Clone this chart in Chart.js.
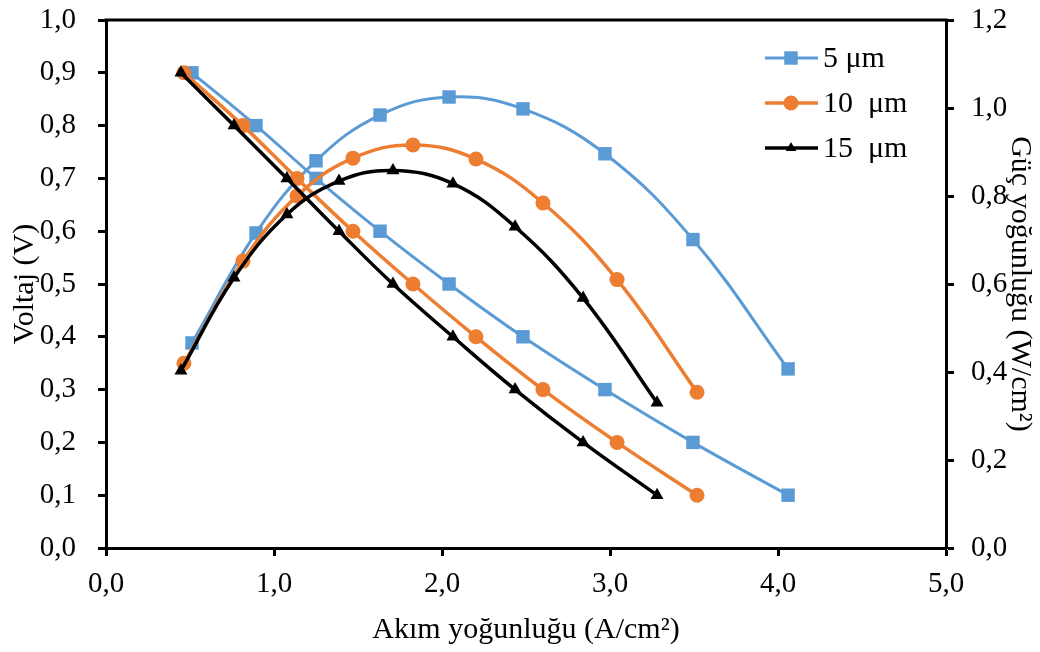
<!DOCTYPE html>
<html>
<head>
<meta charset="utf-8">
<script src="https://cdn.jsdelivr.net/npm/chart.js@4.4.0/dist/chart.umd.min.js"></script>
<style>
  html, body { margin: 0; padding: 0; background: #fff; }
  #wrap { width: 1040px; height: 652px; }
</style>
</head>
<body>
<div id="wrap"><canvas id="c" width="1040" height="652"></canvas></div>
<script>
// Membrane thickness series
const seriesLabels = ['5 μm', '10  μm', '15  μm'];

// Current density (A/cm²), cell voltage (V) and power density (W/cm²)
const current5  = [0.512, 0.893, 1.250, 1.631, 2.042, 2.482, 2.970, 3.494, 4.060];
const voltage5  = [0.9, 0.8, 0.7, 0.6, 0.5, 0.4, 0.3, 0.2, 0.1];
const power5    = [0.466, 0.716, 0.880, 0.984, 1.025, 0.998, 0.896, 0.701, 0.407];

const current10 = [0.464, 0.815, 1.137, 1.470, 1.827, 2.202, 2.601, 3.042, 3.518];
const voltage10 = [0.9, 0.8, 0.7, 0.6, 0.5, 0.4, 0.3, 0.2, 0.1];
const power10   = [0.420, 0.652, 0.800, 0.886, 0.916, 0.884, 0.784, 0.610, 0.354];

const current15 = [0.446, 0.762, 1.077, 1.387, 1.708, 2.065, 2.435, 2.840, 3.280];
const voltage15 = [0.9, 0.8, 0.7, 0.6, 0.5, 0.4, 0.3, 0.2, 0.1];
const power15   = [0.403, 0.614, 0.758, 0.834, 0.858, 0.828, 0.730, 0.568, 0.330];

// Axis ranges and tick steps
const xRange  = [0, 5, 1];
const vRange  = [0, 1, 0.1];
const pRange  = [0, 1.2, 0.2];

const xTitle = 'Akım yoğunluğu (A/cm²)';
const vTitle = 'Voltaj (V)';
const pTitle = 'Güç yoğunluğu (W/cm²)';

const FONT = "'Liberation Serif', 'Times New Roman', serif";
const BLUE = '#5B9BD5', ORANGE = '#ED7D31', BLACK = '#000000';

const pts = (xs, ys) => xs.map((x, i) => ({ x: x, y: ys[i] }));
const comma = v => Number(v).toFixed(1).replace('.', ',');

const styleOf = {
  0: { color: BLUE,   pointStyle: 'rect',     radius: 9.5, width: 3,   order: 3 },
  1: { color: ORANGE, pointStyle: 'circle',   radius: 7.5, width: 3.5, order: 2 },
  2: { color: BLACK,  pointStyle: 'triangle', radius: 7.5, width: 3.5, order: 1 }
};

function makeSet(idx, data, axis, legend) {
  const s = styleOf[idx];
  return {
    label: seriesLabels[idx],
    data: data,
    yAxisID: axis,
    borderColor: s.color,
    backgroundColor: s.color,
    borderWidth: s.width,
    pointStyle: s.pointStyle,
    pointRadius: s.radius,
    pointBorderWidth: 0,
    pointHoverRadius: s.radius,
    tension: 0.4,
    order: s.order,
    showInLegend: legend
  };
}

const datasets = [
  makeSet(0, pts(current5, voltage5), 'y', true),
  makeSet(0, pts(current5, power5), 'y1', false),
  makeSet(1, pts(current10, voltage10), 'y', true),
  makeSet(1, pts(current10, power10), 'y1', false),
  makeSet(2, pts(current15, voltage15), 'y', true),
  makeSet(2, pts(current15, power15), 'y1', false)
];

// Top edge of the plot frame
const framePlugin = {
  id: 'frame',
  afterDraw(chart) {
    const a = chart.chartArea, ctx = chart.ctx;
    ctx.save();
    ctx.strokeStyle = '#000';
    ctx.lineWidth = 3;
    ctx.beginPath();
    ctx.moveTo(a.left - 1.5, a.top);
    ctx.lineTo(a.right + 1.5, a.top);
    ctx.stroke();
    ctx.restore();
  }
};

// Legend drawn inside the plot, upper right
const legendPlugin = {
  id: 'innerLegend',
  afterDatasetsDraw(chart) {
    const ctx = chart.ctx;
    const items = chart.data.datasets.filter(d => d.showInLegend);
    items.forEach((ds, i) => {
      const y = 58 + i * 45;
      ctx.save();
      ctx.strokeStyle = ds.borderColor;
      ctx.lineWidth = ds.borderWidth;
      ctx.beginPath();
      ctx.moveTo(765, y);
      ctx.lineTo(818, y);
      ctx.stroke();
      ctx.fillStyle = ds.backgroundColor;
      Chart.helpers.drawPoint(ctx, {
        pointStyle: ds.pointStyle,
        radius: ds.pointStyle === 'triangle' ? 6 : ds.pointRadius,
        rotation: 0,
        borderWidth: 0
      }, 791, y);
      ctx.fillStyle = '#000';
      ctx.font = '30px ' + FONT;
      ctx.textBaseline = 'middle';
      ctx.textAlign = 'left';
      ctx.fillText(ds.label, 823, y + 1);
      ctx.restore();
    });
  }
};

const tickFont = { family: FONT, size: 29 };
const titleFont = { family: FONT, size: 30 };
const axisGrid = {
  drawOnChartArea: false,
  drawTicks: true,
  tickLength: 8,
  tickWidth: 3,
  tickColor: '#000'
};
const axisBorder = { display: true, color: '#000', width: 3 };

new Chart(document.getElementById('c'), {
  type: 'line',
  data: { datasets: datasets },
  plugins: [framePlugin, legendPlugin],
  options: {
    responsive: false,
    animation: false,
    devicePixelRatio: 1,
    layout: { padding: { top: 20, left: 0, right: 0, bottom: 0 } },
    plugins: { legend: { display: false }, tooltip: { enabled: false } },
    scales: {
      x: {
        type: 'linear',
        min: xRange[0], max: xRange[1],
        grid: axisGrid,
        border: axisBorder,
        ticks: { stepSize: xRange[2], color: '#000', font: tickFont, padding: 11, callback: comma, maxRotation: 0 },
        title: { display: true, text: xTitle, color: '#000', font: titleFont, padding: { top: 0, bottom: 4 } },
        afterFit(s) { s.height = 104; s.paddingLeft = 0; s.paddingRight = 0; }
      },
      y: {
        position: 'left',
        min: vRange[0], max: vRange[1],
        grid: axisGrid,
        border: axisBorder,
        ticks: { stepSize: vRange[2], color: '#000', font: tickFont, padding: 22, callback: comma },
        title: { display: true, text: vTitle, color: '#000', font: titleFont, padding: { top: 7, bottom: 0 } },
        afterFit(s) { s.width = 106; s.paddingTop = 0; s.paddingBottom = 0; }
      },
      y1: {
        position: 'right',
        min: pRange[0], max: pRange[1],
        grid: axisGrid,
        border: axisBorder,
        ticks: { stepSize: pRange[2], color: '#000', font: tickFont, padding: 17, callback: comma },
        title: { display: true, text: pTitle, color: '#000', font: titleFont, padding: { top: 2, bottom: 0 } },
        afterFit(s) { s.width = 94; s.paddingTop = 0; s.paddingBottom = 0; }
      }
    }
  }
});
</script>
</body>
</html>
